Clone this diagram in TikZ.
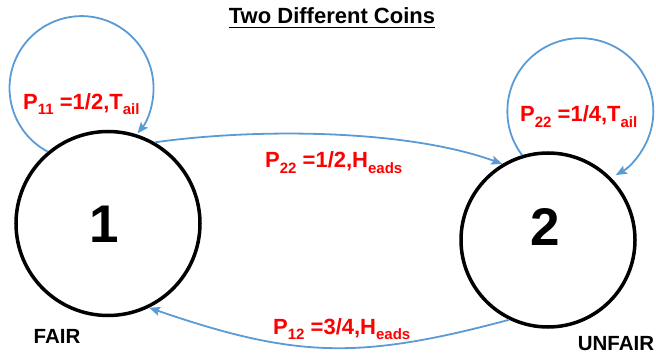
\documentclass[tikz,border=0pt]{standalone}
\usepackage{fontspec}
\setmainfont{Liberation Sans}
\usetikzlibrary{arrows.meta}
\definecolor{linkblue}{HTML}{5B9BD5}
\definecolor{labred}{HTML}{FF0000}
\newcommand\subx[1]{\raisebox{-5pt}{\fontsize{15}{15}\selectfont #1}}
\tikzset{
  statecirc/.style={circle, draw=black, line width=3.5pt, inner sep=0pt},
  link/.style={draw=linkblue, line width=1.8pt, -{Stealth[length=11pt,width=9pt,inset=2pt]}},
  prob/.style={text=labred, font=\bfseries\fontsize{22}{24}\selectfont, inner sep=0pt, anchor=base west},
  tag/.style={font=\bfseries\fontsize{20.5}{22}\selectfont, inner sep=0pt, anchor=base},
  num/.style={font=\bfseries\fontsize{53}{56}\selectfont, inner sep=0pt}
}
\begin{document}
\begin{tikzpicture}[x=1pt,y=1pt]
\useasboundingbox (0,0) rectangle (656,354);
% states
\node[statecirc, minimum size=184pt] (s1) at (108,130.5) {};
\node[statecirc, minimum size=174pt] (s2) at (548,114) {};
\node[num] (n1) at (104,130) {1};
\node[num] (n2) at (545.5,127.5) {2};
% title
\node[font=\bfseries\fontsize{22}{24}\selectfont, inner sep=0pt, anchor=base] (title) at (332,330) {Two Different Coins};
\draw[line width=1.6pt] ([yshift=-3.5pt]title.base west) -- ([yshift=-3.5pt]title.base east);
% tags
\node[tag] (fair) at (57,11) {FAIR};
\node[tag] (unfair) at (616,4) {UNFAIR};
% self loops
\draw[link] (s1.130) arc[start angle=242, end angle=-39, radius=72];
\draw[link] (s2.107) arc[start angle=217, end angle=-61, radius=73];
% transitions
\draw[link] (s1.60) to[out=8, in=160, looseness=0.75] (s2.121);
\draw[link] (s2.244) to[out=195, in=-19, looseness=1.1] (s1.296);
% labels
\node[prob] (l11) at (23,244) {P\subx{11} =1/2,T\subx{ail}};
\node[prob] (l22b) at (520,232) {P\subx{22} =1/4,T\subx{ail}};
\node[prob] (l22a) at (265,186) {P\subx{22} =1/2,H\subx{eads}};
\node[prob] (l12) at (273,20) {P\subx{12} =3/4,H\subx{eads}};
\end{tikzpicture}
\end{document}
